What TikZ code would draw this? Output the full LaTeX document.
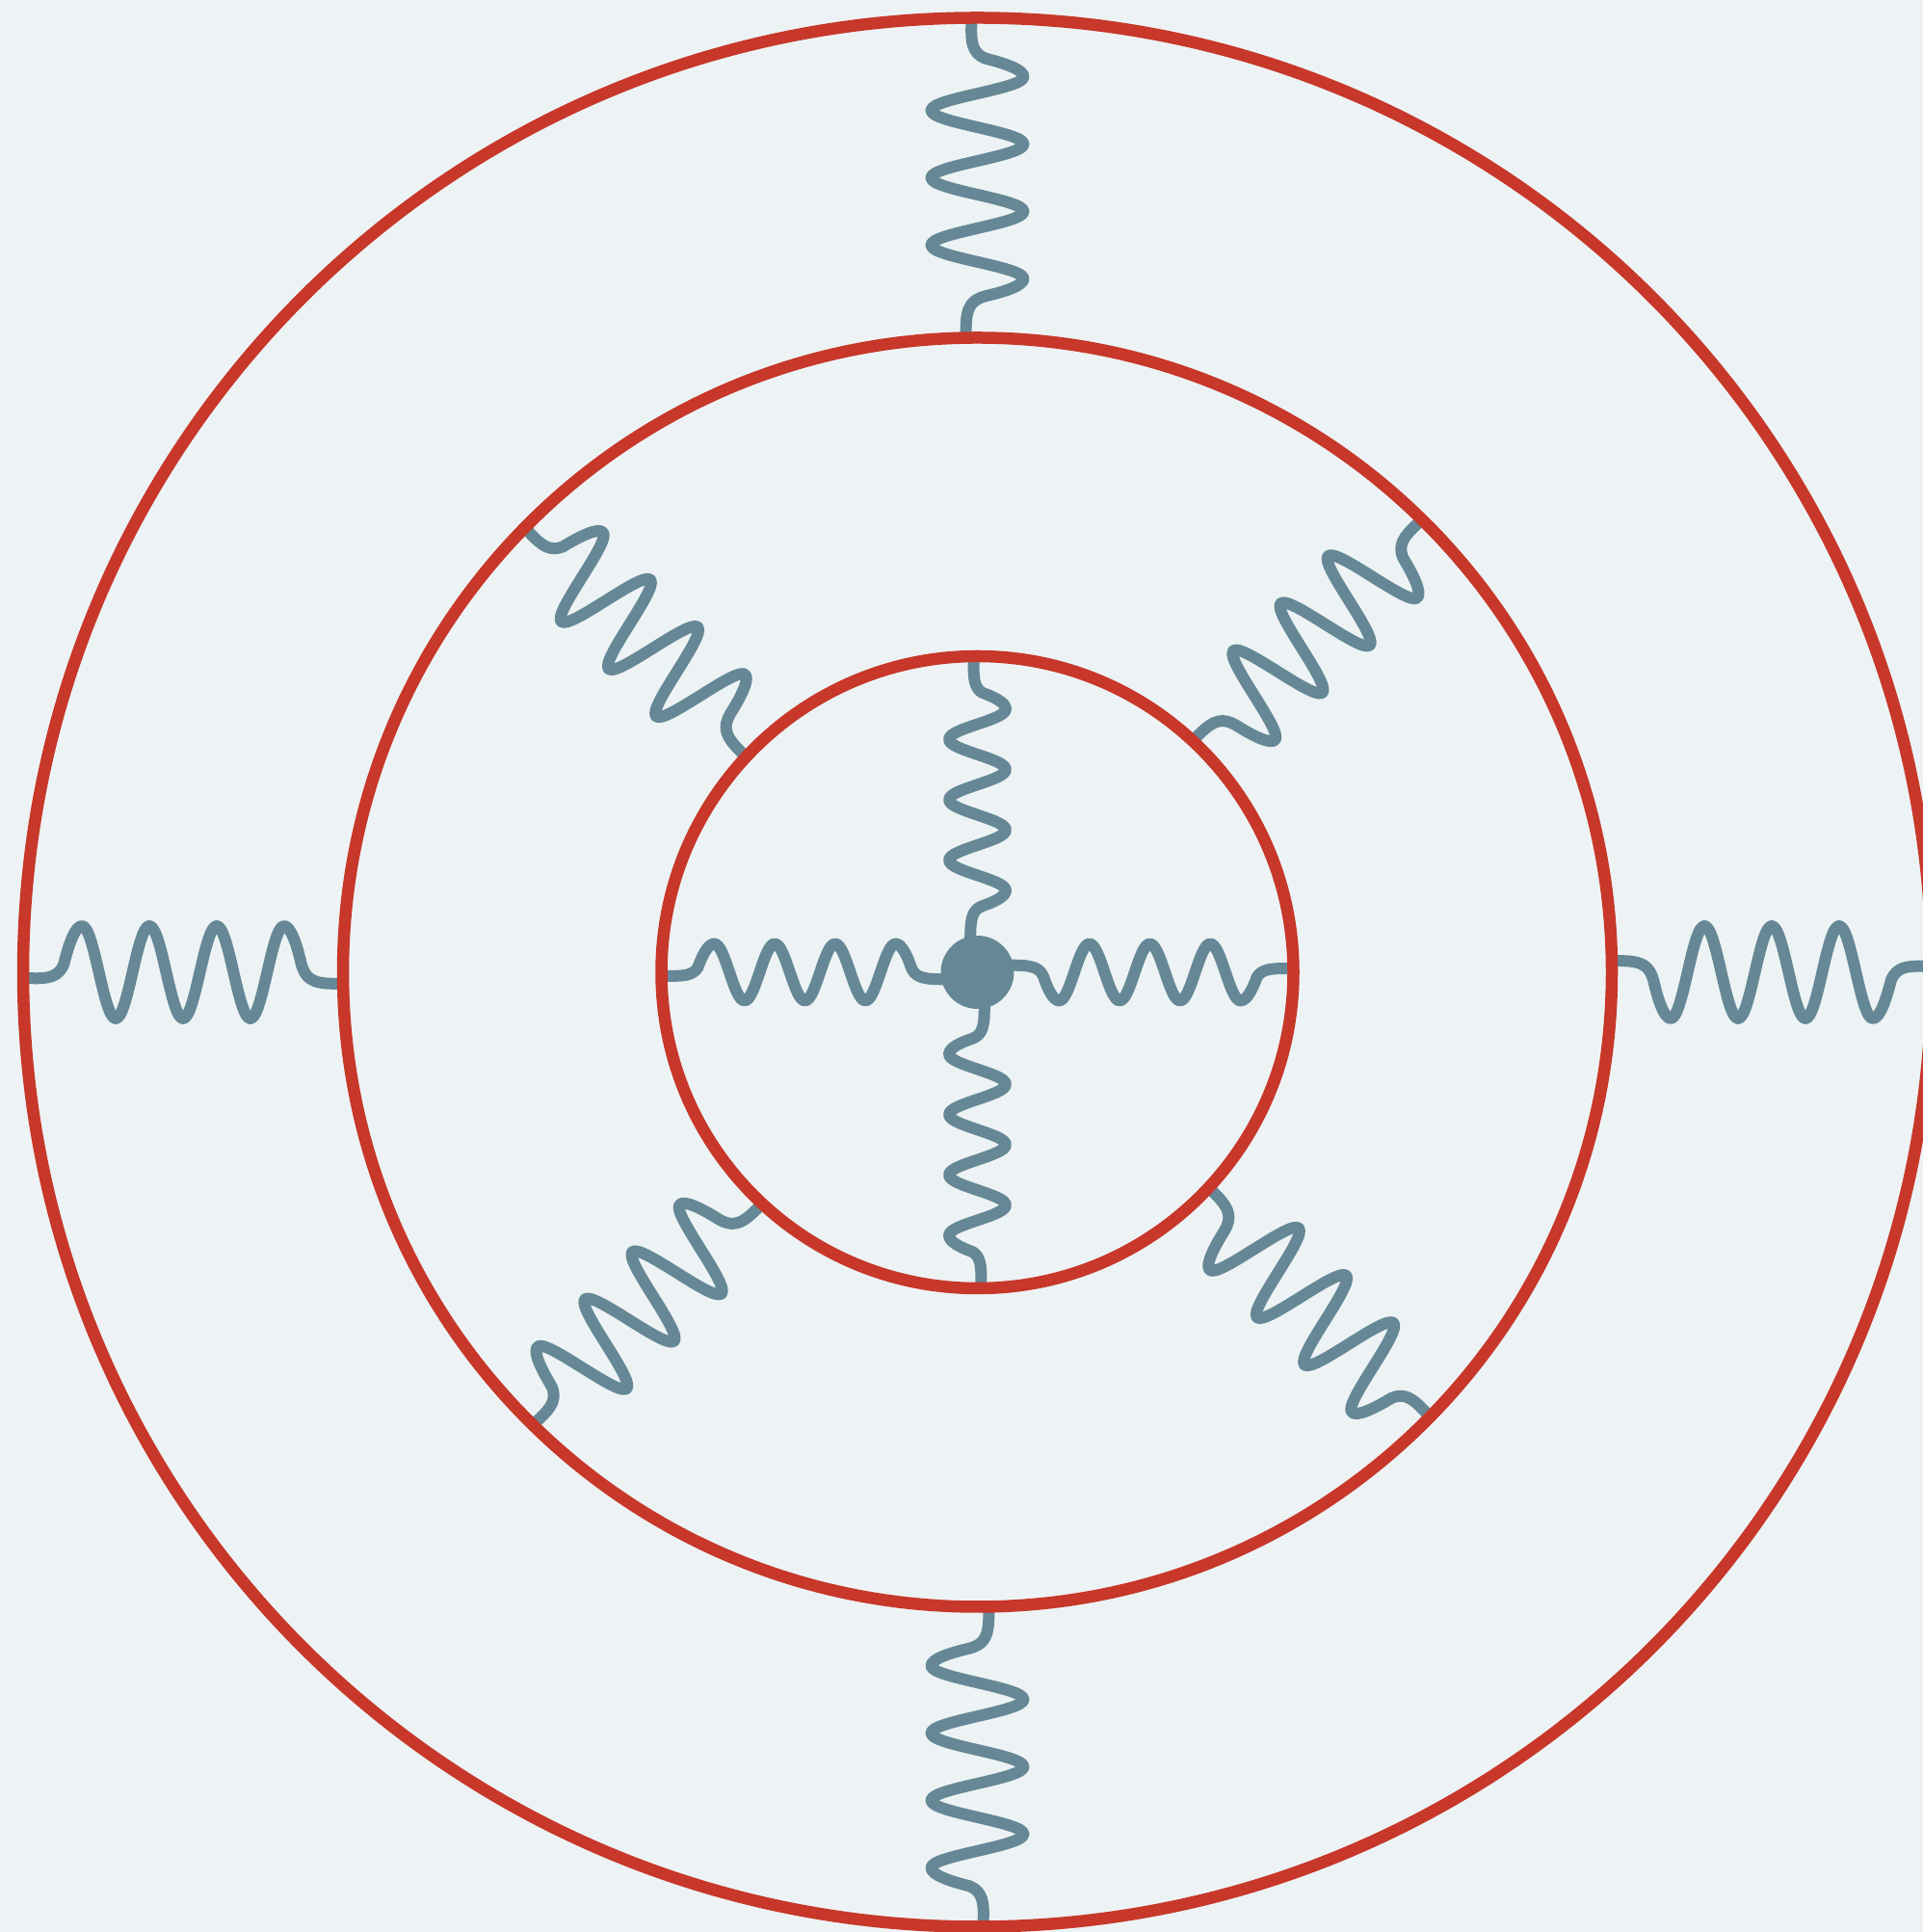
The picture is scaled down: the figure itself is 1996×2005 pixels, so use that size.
\documentclass[tikz,border=0pt]{standalone}
\usetikzlibrary{decorations}
\pgfdeclarelayer{front}
\pgfsetlayers{main,front}
\definecolor{paper}{RGB}{237,243,244}
\definecolor{loopred}{RGB}{199,55,42}
\definecolor{wavegrey}{RGB}{102,136,150}
\newcommand\wseg[6]{\pgfpathcurveto{\pgfpoint{#1pt}{#2pt}}{\pgfpoint{#3pt}{#4pt}}{\pgfpoint{#5pt}{#6pt}}}
\pgfdeclaredecoration{photonwave}{draw}{
  \state{draw}[width=\pgfdecoratedpathlength-0.1pt,next state=final]{
    \pgfmathsetmacro\wsx{\pgfdecoratedpathlength/331}
    \pgfmathsetmacro\wsy{\pgfdecorationsegmentamplitude/48}
    \pgftransformxscale{\wsx}\pgftransformyscale{\wsy}
    \pgfpathmoveto{\pgfpoint{0pt}{-6pt}}
    \pgfpathlineto{\pgfpoint{8pt}{-6.2pt}}
    \wseg{26}{-6.8}{36.5}{-5}{42}{8}
    \wseg{47}{28}{53.5}{48}{61}{48}
    \wseg{73.69}{48}{83.14}{-48}{95.83}{-48}
    \wseg{108.52}{-48}{117.97}{48}{130.67}{48}
    \wseg{143.36}{48}{152.81}{-48}{165.5}{-48}
    \wseg{178.19}{-48}{187.64}{48}{200.33}{48}
    \wseg{213.02}{48}{222.47}{-48}{235.17}{-48}
    \wseg{247.86}{-48}{257.31}{48}{270}{48}
    \wseg{277}{48}{283.5}{28}{288}{8}
    \wseg{292}{-6}{299}{-11.5}{320}{-11.8}
    \pgfpathlineto{\pgfpoint{331pt}{-12pt}}
  }
  \state{final}{}
}
\tikzset{
  ring/.style={circle,draw=loopred,line width=12.5pt,fill=none,inner sep=0pt,outer sep=0pt},
  hubdot/.style={circle,fill=wavegrey,inner sep=0pt,outer sep=0pt,minimum size=76pt},
  bigwave/.style={draw=wavegrey,line width=12pt,line join=round,decorate,decoration={photonwave,amplitude=48pt}},
  smallwave/.style={draw=wavegrey,line width=12pt,line join=round,decorate,decoration={photonwave,amplitude=29.5pt}}
}
\begin{document}
\begin{tikzpicture}[x=1pt,y=1pt]
\useasboundingbox (0,0) rectangle (1996,2005);
\fill[paper] (0,0) rectangle (1996,2005);
\coordinate (c) at (1014.5,996);
\begin{pgfonlayer}{front}
  \node[ring,minimum size=1981pt] (outer) at (c) {};
  \node[ring,minimum size=1317pt] (middle) at (c) {};
  \node[ring,minimum size=656pt] (inner) at (c) {};
  \node[hubdot] (hub) at (c) {};
\end{pgfonlayer}
\coordinate (sL) at ([shift={(180:30)}]c);
\coordinate (sT) at ([shift={(90:30)}]c);
\coordinate (sR) at ([shift={(0:30)}]c);
\coordinate (sB) at ([shift={(270:30)}]c);
% outer gap
\path[bigwave] (outer.180) -- (middle.180);
\path[bigwave] (outer.90) -- (middle.90);
\path[bigwave] (outer.0) -- (middle.0);
\path[bigwave] (outer.270) -- (middle.270);
% middle gap
\path[bigwave] (middle.135) -- (inner.135);
\path[bigwave] (middle.45) -- (inner.45);
\path[bigwave] (middle.315) -- (inner.315);
\path[bigwave] (middle.225) -- (inner.225);
% spokes
\path[smallwave] (inner.180) -- (sL);
\path[smallwave] (inner.90) -- (sT);
\path[smallwave] (inner.0) -- (sR);
\path[smallwave] (inner.270) -- (sB);
\end{tikzpicture}
\end{document}
